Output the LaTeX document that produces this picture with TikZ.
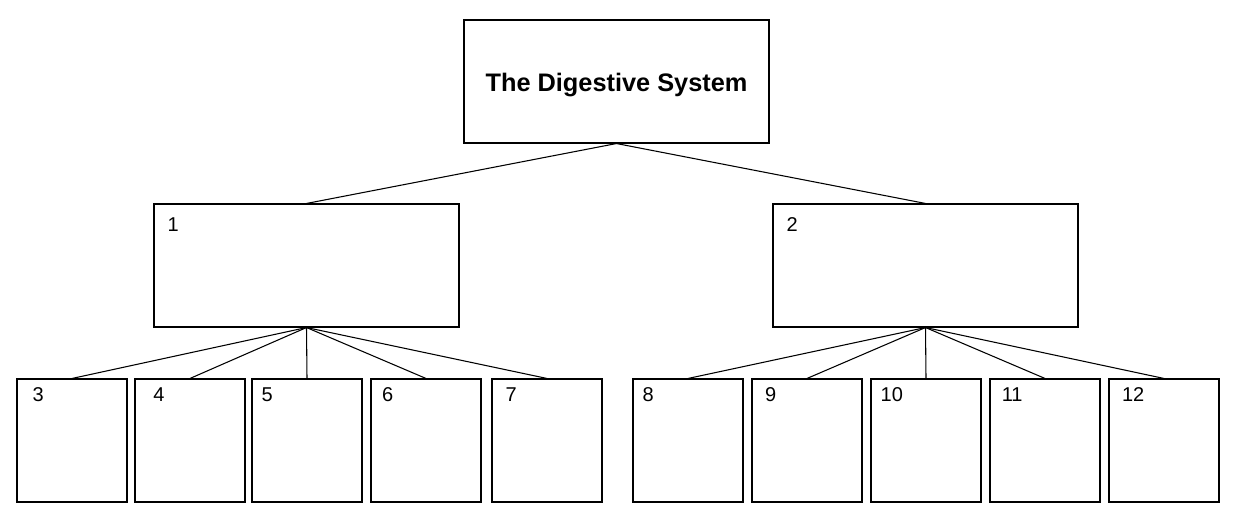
\documentclass[tikz,border=0pt]{standalone}
\usepackage{fontspec}
\setmainfont{Liberation Sans}
\usepackage{tikz}
\usetikzlibrary{positioning}

\begin{document}
\begin{tikzpicture}[
    x=0.75pt, y=-0.75pt,
    topbox/.style={rectangle, draw, line width=0.8pt, minimum width=228.75pt, minimum height=92.25pt, inner sep=0pt},
    groupbox/.style={rectangle, draw, line width=0.8pt, minimum width=228.75pt, minimum height=92.25pt, inner sep=0pt},
    partbox/.style={rectangle, draw, line width=0.8pt, minimum width=82.5pt, minimum height=92.25pt, inner sep=0pt},
    title/.style={font=\fontsize{19}{23}\selectfont\bfseries, anchor=base, inner sep=0pt},
    num/.style={font=\fontsize{15}{18}\selectfont, anchor=base west, inner sep=0pt},
    link/.style={line width=0.8pt}
]
    \useasboundingbox (0,0) rectangle (1237,516);

    % top of the tree
    \node[topbox] (system) at (616.5,81.5) {};
    \node[title] (name) at ([yshift=-7.65pt]system.center) {The Digestive System};

    % two groups
    \node[groupbox] (g1) at (306.5,265.5) {};
    \node[groupbox] (g2) at (925.5,265.5) {};
    \node[num] (n1) at ([xshift=10.5pt, yshift=-21pt]g1.north west) {1};
    \node[num] (n2) at ([xshift=10.5pt, yshift=-21pt]g2.north west) {2};

    % parts of group 1
    \node[partbox] (p3) at (72,440.5) {};
    \node[partbox] (p4) at (190,440.5) {};
    \node[partbox] (p5) at (307,440.5) {};
    \node[partbox] (p6) at (426,440.5) {};
    \node[partbox] (p7) at (547,440.5) {};
    % parts of group 2
    \node[partbox] (p8) at (688,440.5) {};
    \node[partbox] (p9) at (807,440.5) {};
    \node[partbox] (p10) at (926,440.5) {};
    \node[partbox] (p11) at (1045,440.5) {};
    \node[partbox] (p12) at (1164,440.5) {};

    \node[num] (n3) at ([xshift=12pt, yshift=-17.25pt]p3.north west) {3};
    \node[num] (n4) at ([xshift=14pt, yshift=-17.25pt]p4.north west) {4};
    \node[num] (n5) at ([xshift=7.5pt, yshift=-17.25pt]p5.north west) {5};
    \node[num] (n6) at ([xshift=8.5pt, yshift=-17.25pt]p6.north west) {6};
    \node[num] (n7) at ([xshift=10.5pt, yshift=-17.25pt]p7.north west) {7};
    \node[num] (n8) at ([xshift=7.5pt, yshift=-17.25pt]p8.north west) {8};
    \node[num] (n9) at ([xshift=10pt, yshift=-17.25pt]p9.north west) {9};
    \node[num] (n10) at ([xshift=7.5pt, yshift=-17.25pt]p10.north west) {10};
    \node[num] (n11) at ([xshift=9pt, yshift=-17.25pt]p11.north west) {11};
    \node[num] (n12) at ([xshift=10pt, yshift=-17.25pt]p12.north west) {12};

    \draw[link] (system.south) -- (g1.north);
    \draw[link] (system.south) -- (g2.north);

    \draw[link] (g1.south) -- (p3.north);
    \draw[link] (g1.south) -- (p4.north);
    \draw[link] (g1.south) -- (p5.north);
    \draw[link] (g1.south) -- (p6.north);
    \draw[link] (g1.south) -- (p7.north);

    \draw[link] (g2.south) -- (p8.north);
    \draw[link] (g2.south) -- (p9.north);
    \draw[link] (g2.south) -- (p10.north);
    \draw[link] (g2.south) -- (p11.north);
    \draw[link] (g2.south) -- (p12.north);
\end{tikzpicture}
\end{document}
